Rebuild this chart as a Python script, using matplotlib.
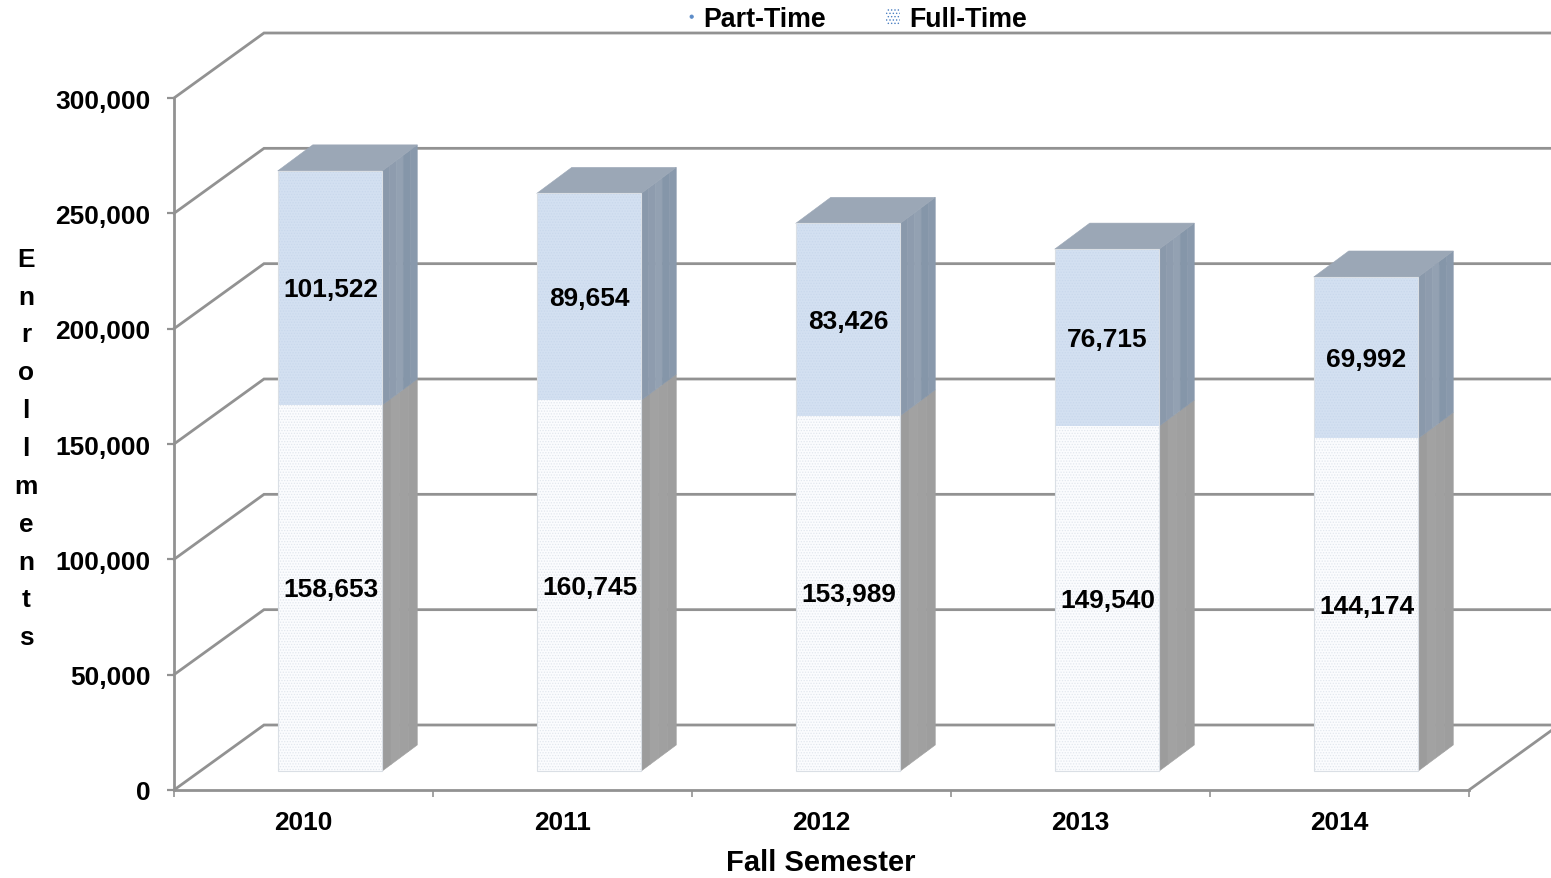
import matplotlib
matplotlib.use("Agg")
import matplotlib.pyplot as plt
from matplotlib.patches import Polygon, Patch

plt.rcParams['font.family'] = ['Liberation Sans', 'DejaVu Sans']
plt.rcParams['font.weight'] = 'bold'
plt.rcParams['hatch.linewidth'] = 0.6

years = ['2010', '2011', '2012', '2013', '2014']
part_time = [158653, 160745, 153989, 149540, 144174]
full_time = [101522, 89654, 83426, 76715, 69992]
y_ticks = [0, 50000, 100000, 150000, 200000, 250000, 300000]
y_title = 'Enrollments'
x_title = 'Fall Semester'

W, H = 1551, 879
L, R, B, T = 174, 1469, 791, 99
fig = plt.figure(figsize=(W / 100, H / 100), dpi=100, facecolor='white')
ax = fig.add_axes([L / W, 1 - B / H, (R - L) / W, (B - T) / H])
ax.set_xlim(0, len(years))
ax.set_ylim(y_ticks[0], y_ticks[-1])

# pixel -> data unit factors for the pseudo-3D projection
ux = len(years) / (R - L)
uy = y_ticks[-1] / (B - T)
wall_dx, wall_dy = 90 * ux, 65 * uy
depth_dx, depth_dy = 35 * ux, 26 * uy
base_dx, base_dy = 26.5 * ux, 19 * uy
bar_w = 104.5 * ux

GRID = '#929292'
for v in y_ticks:
    ax.plot([0, wall_dx, len(years) + wall_dx],
            [v, v + wall_dy, v + wall_dy],
            color=GRID, lw=2.0, clip_on=False, zorder=1, solid_joinstyle='miter')
ax.plot([len(years), len(years) + wall_dx], [0, wall_dy],
        color=GRID, lw=2.0, clip_on=False, zorder=1)


def side(x, y0, y1, colors):
    n = len(colors)
    for k, c in enumerate(colors):
        a, b = k / n, (k + 1) / n
        ax.add_patch(Polygon(
            [(x + a * depth_dx, y0 + a * depth_dy), (x + b * depth_dx, y0 + b * depth_dy),
             (x + b * depth_dx, y1 + b * depth_dy), (x + a * depth_dx, y1 + a * depth_dy)],
            closed=True, fc=c, ec=c, lw=0.4, clip_on=False, zorder=3))


for i, (p, f) in enumerate(zip(part_time, full_time)):
    x0 = i + 0.5 + base_dx - bar_w / 2
    x1 = x0 + bar_w
    top = base_dy + p + f
    mid = base_dy + p
    side(x1, base_dy, mid, ['#9C9C9C', '#A2A2A2', '#A0A0A0', '#9E9E9E'])
    side(x1, mid, top, ['#8A99AB', '#8E9CAE', '#93A1B2', '#8596A9', '#8999AC'])
    ax.add_patch(Polygon(
        [(x0, top), (x1, top), (x1 + depth_dx, top + depth_dy), (x0 + depth_dx, top + depth_dy)],
        closed=True, fc='#9BA7B6', ec='#9BA7B6', lw=0.4, clip_on=False, zorder=3))

centers = [i + 0.5 + base_dx for i in range(len(years))]
ax.bar(centers, part_time, bar_w, bottom=base_dy, facecolor='#FBFCFE', edgecolor='#E2E7EE',
       hatch='......', linewidth=0, zorder=4)
ax.bar(centers, full_time, bar_w, bottom=[base_dy + p for p in part_time], facecolor='#D3E0F1',
       edgecolor='#C9D8EC', hatch='......', linewidth=0, zorder=4)
ax.bar(centers, [p + f for p, f in zip(part_time, full_time)], bar_w, bottom=base_dy,
       fill=False, edgecolor='#DADFE5', linewidth=0.8, zorder=5)

for c, p, f in zip(centers, part_time, full_time):
    ax.annotate(f'{p:,}', (c, base_dy + p / 2), xytext=(0.4, -0.7), textcoords='offset points',
                ha='center', va='center', fontsize=18.9, color='black', zorder=6)
    ax.annotate(f'{f:,}', (c, base_dy + p + f / 2), xytext=(0.4, -0.7), textcoords='offset points',
                ha='center', va='center', fontsize=18.9, color='black', zorder=6)

for s in ('top', 'right'):
    ax.spines[s].set_visible(False)
for s in ('left', 'bottom'):
    ax.spines[s].set_color(GRID)
    ax.spines[s].set_linewidth(2.0)
    ax.spines[s].set_zorder(2)

ax.set_yticks(y_ticks)
ax.set_yticklabels([f'{v:,}' for v in y_ticks], fontsize=19.0)
ax.tick_params(axis='y', length=5, width=1.6, color=GRID, pad=12, labelcolor='black')
ax.set_xticks(range(len(years) + 1))
ax.set_xticklabels([])
ax.tick_params(axis='x', which='major', length=5, width=1.2, color=GRID)
ax.set_xticks([i + 0.5 for i in range(len(years))], minor=True)
ax.set_xticklabels(years, minor=True, fontsize=18.9)
ax.tick_params(axis='x', which='minor', length=0, pad=14.5, labelcolor='black')

fig.text(821 / W, 1 - 863 / H, x_title, ha='center', va='center', fontsize=21, color='black')
fig.text(26 / W, 1 - 449 / H, '\n'.join(y_title), ha='center', va='center', fontsize=18.9,
         color='black', linespacing=1.73)

handles = [
    Patch(facecolor='white', edgecolor='#5B8BC8', hatch='.', linewidth=0),
    Patch(facecolor='white', edgecolor='#4A7FC1', hatch='.....', linewidth=0),
]
leg = fig.legend(handles, ['Part-Time', 'Full-Time'], ncol=2, frameon=False,
                 loc='center', bbox_to_anchor=(853.5 / W, 1 - 20 / H), fontsize=19.3,
                 handlelength=0.5, handleheight=0.6, handletextpad=0.35, columnspacing=2.27,
                 borderpad=0, borderaxespad=0)

fig.savefig('out.png', dpi=100, facecolor='white')
